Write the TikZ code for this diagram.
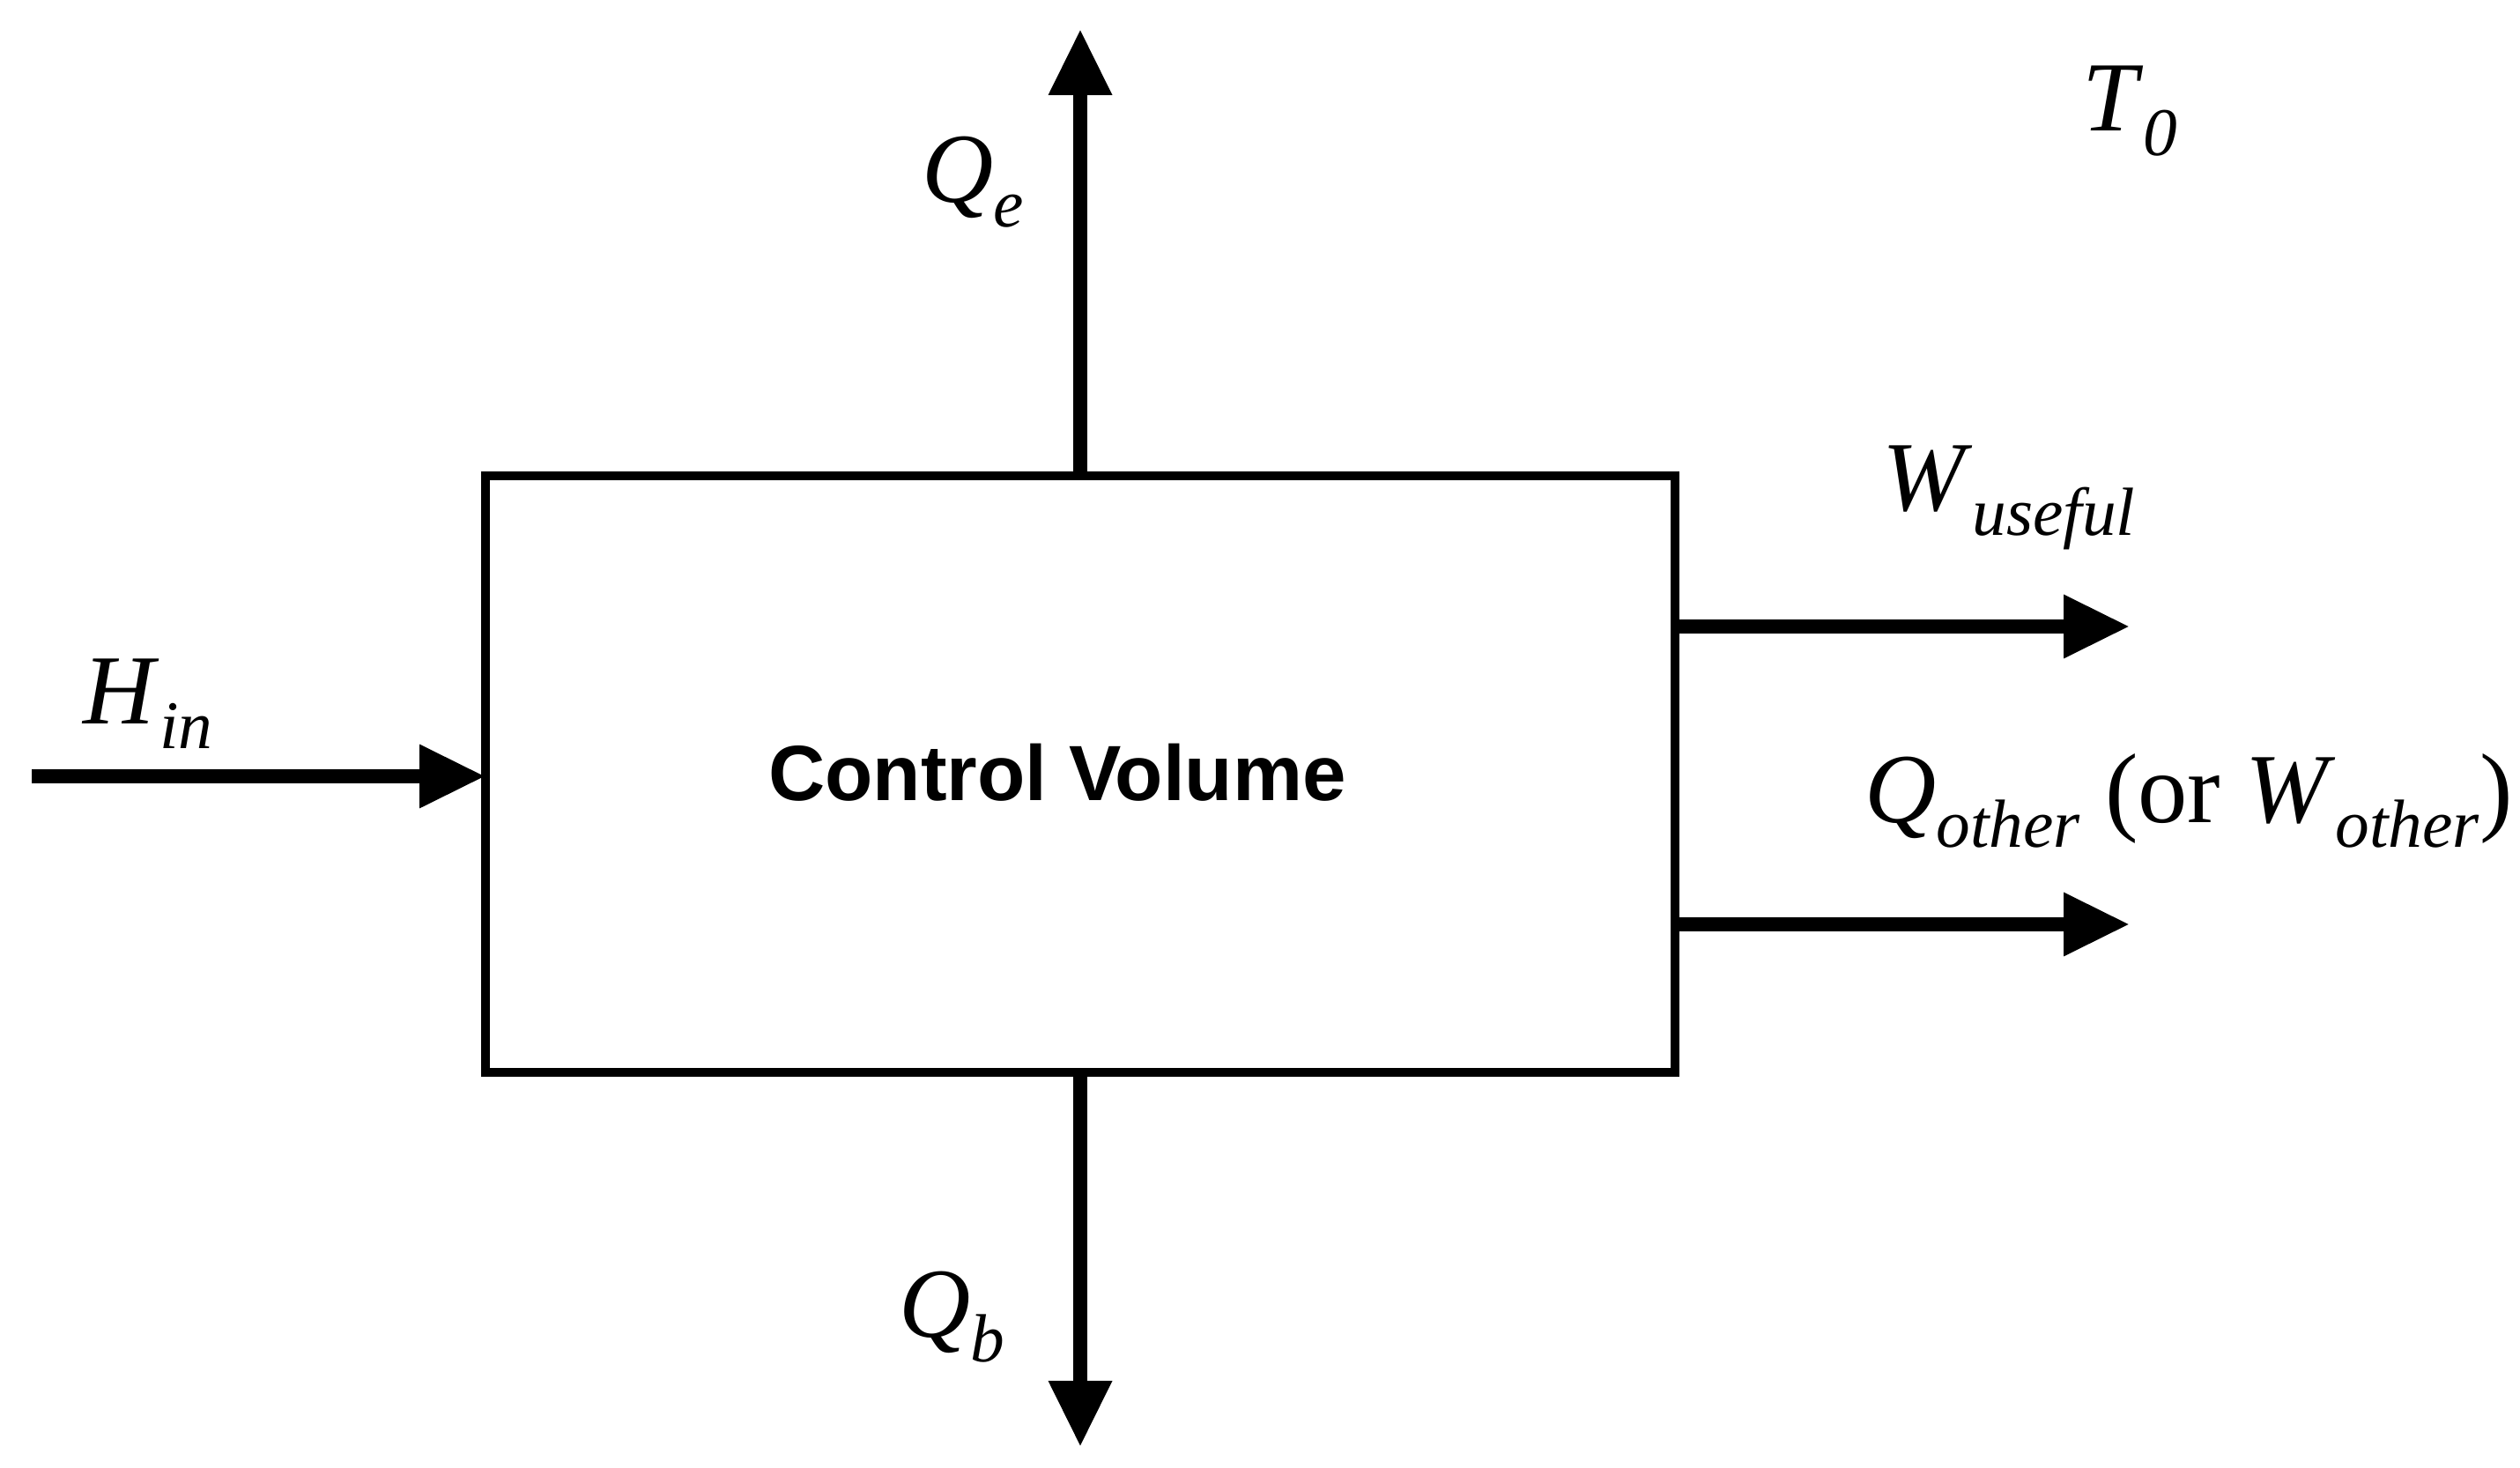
\documentclass[tikz,border=0pt]{standalone}
\usepackage{fontspec}
\setmainfont{Liberation Serif}
\newfontfamily\cvfont{Liberation Sans}
\usepackage{tikz}
\usetikzlibrary{arrows.meta, positioning, calc}

\newcommand{\flowsym}[2]{\textit{#1}\raisebox{-0.25em}{\fontsize{22}{22}\selectfont\textit{#2}}}

\begin{document}
\begin{tikzpicture}[
    every node/.style={font=\fontsize{32}{36}\selectfont, inner sep=0pt},
    cv/.style={rectangle, draw, line width=2.6pt, outer sep=0pt, minimum width=13.5cm, minimum height=6.77cm},
    cvtext/.style={font=\cvfont\bfseries\fontsize{25.3}{30}\selectfont},
    flow/.style={-{Triangle[length=7.5mm, width=6.8mm]}, line width=4.6pt}
]
    \useasboundingbox (0,0) rectangle (28.6,16.65);

    % Nodes
    \node (cv) [cv] at (12.26,7.865) {};
    \node (cvlabel) [cvtext] at (12.0,7.88) {Control Volume};
    \coordinate (qetip) at (12.26,16.32);
    \coordinate (qbtip) at (12.26,0.23);
    \coordinate (hstart) at (0.36,7.84);
    \coordinate (wtip) at (24.17,9.54);
    \coordinate (qotip) at (24.17,6.16);

    \node (qe) at (11.04,14.58) {\flowsym{Q}{e}};
    \node (qb) at (10.80,1.70) {\flowsym{Q}{b}};
    \node (hin) at (1.68,8.66) {\flowsym{H}{in}};
    \node (wuse) at (22.80,11.00) {\flowsym{W}{useful}};
    \node (qoth) at (24.84,7.56) {\flowsym{Q}{other} (or \flowsym{W}{other})};
    \node (tzero) at (24.17,15.39) {\flowsym{T}{0}};

    % Connections
    \draw [flow] (cv.north) -- (qetip);
    \draw [flow] (cv.south) -- (qbtip);
    \draw [flow] (hstart) -- (hstart -| cv.west);
    \draw [flow] (wtip -| cv.east) -- (wtip);
    \draw [flow] (qotip -| cv.east) -- (qotip);
\end{tikzpicture}
\end{document}
